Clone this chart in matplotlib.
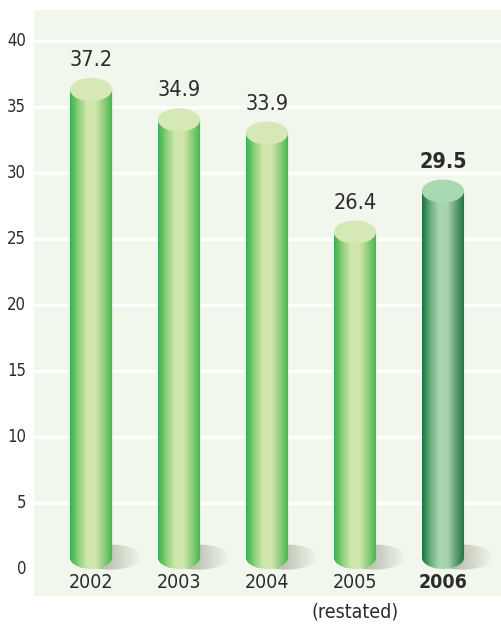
import numpy as np
import matplotlib
matplotlib.use("Agg")
import matplotlib.pyplot as plt
from matplotlib.patches import Ellipse, PathPatch
from matplotlib.path import Path
from matplotlib.colors import LinearSegmentedColormap

# data
years = ["2002", "2003", "2004", "2005", "2006"]
values = [37.2, 34.9, 33.9, 26.4, 29.5]
value_labels = ["37.2", "34.9", "33.9", "26.4", "29.5"]
y_ticks = [0, 5, 10, 15, 20, 25, 30, 35, 40]

font = ["DejaVu Sans"]
stretch = "condensed"
text_color = "#2b2b2b"
panel_color = "#f1f7ec"

light_cmap = LinearSegmentedColormap.from_list(
    "light", ["#37b34a", "#8fcf7c", "#d3e7ae", "#cfe5aa", "#8ccd78", "#3db54a"])
dark_cmap = LinearSegmentedColormap.from_list(
    "dark", ["#17713f", "#6bb07e", "#aad6b0", "#a6d3ad", "#5f9c72", "#17713f"])

fig = plt.figure(figsize=(5.01, 6.25), dpi=100)
ax = fig.add_axes([34 / 501, 1 - 596 / 625, (501 - 34) / 501, (596 - 10) / 625])
ax.set_facecolor(panel_color)
ax.set_xlim(-0.648, 4.66)
ax.set_ylim(-2.05, 42.35)
for s in ax.spines.values():
    s.set_visible(False)
ax.set_xticks([])
ax.set_yticks([])

# white gridlines
for t in y_ticks[1:]:
    ax.axhline(t, color="white", lw=2.4, zorder=1)

half_w = 0.24
ell_h = 1.75
grad = np.linspace(0, 1, 256).reshape(1, -1)
sh_cmap = LinearSegmentedColormap.from_list("sh", ["#a4a89a", "#c4c8b9", panel_color])

for i, (v, lab) in enumerate(zip(values, value_labels)):
    cmap = dark_cmap if i == 4 else light_cmap
    top_color = "#a9d9b1" if i == 4 else "#d6e8b5"

    # shadow at the base
    sh = Ellipse((i + 0.22, 0.9), 0.7, 1.9, transform=ax.transData)
    im = ax.imshow(grad, cmap=sh_cmap, aspect="auto", zorder=2,
                   extent=(i - 0.13, i + 0.57, -0.5, 2.5), interpolation="bicubic")
    ax.add_patch(sh)
    sh.set_visible(False)
    im.set_clip_path(sh)

    # cylinder body: rectangle with a rounded (half ellipse) bottom
    yb = ell_h / 2
    yt = v - ell_h / 2
    th = np.linspace(np.pi, 2 * np.pi, 60)
    verts = [(i - half_w, yt)]
    verts += [(i + half_w * np.cos(t), yb + ell_h / 2 * np.sin(t)) for t in th]
    verts += [(i + half_w, yt), (i - half_w, yt)]
    codes = [Path.MOVETO] + [Path.LINETO] * (len(verts) - 2) + [Path.CLOSEPOLY]
    body = PathPatch(Path(verts, codes), facecolor="none", edgecolor="none")
    ax.add_patch(body)
    im = ax.imshow(grad, cmap=cmap, aspect="auto", zorder=3,
                   extent=(i - half_w, i + half_w, 0, v), interpolation="bicubic")
    im.set_clip_path(body)

    # top ellipse
    ax.add_patch(Ellipse((i, yt), 2 * half_w, ell_h, facecolor=top_color,
                         edgecolor="none", zorder=4))

    ax.text(i, v + 0.6, lab, ha="center", va="bottom", fontsize=15.5,
            family=font, stretch=stretch, color=text_color, zorder=5,
            fontweight="bold" if i == 4 else "normal")

    ax.text(i, -1.0, years[i], ha="center", va="center", fontsize=14,
            family=font, stretch=stretch, color=text_color,
            fontweight="bold" if i == 4 else "normal")

ax.text(3, -3.3, "(restated)", ha="center", va="center", fontsize=14,
        family=font, stretch=stretch, color=text_color, clip_on=False)

for t in y_ticks:
    ax.text(-0.738, t, str(t), ha="right", va="center", fontsize=12,
            family=font, stretch=stretch, color=text_color, clip_on=False)

fig.savefig("out.png", dpi=100)
